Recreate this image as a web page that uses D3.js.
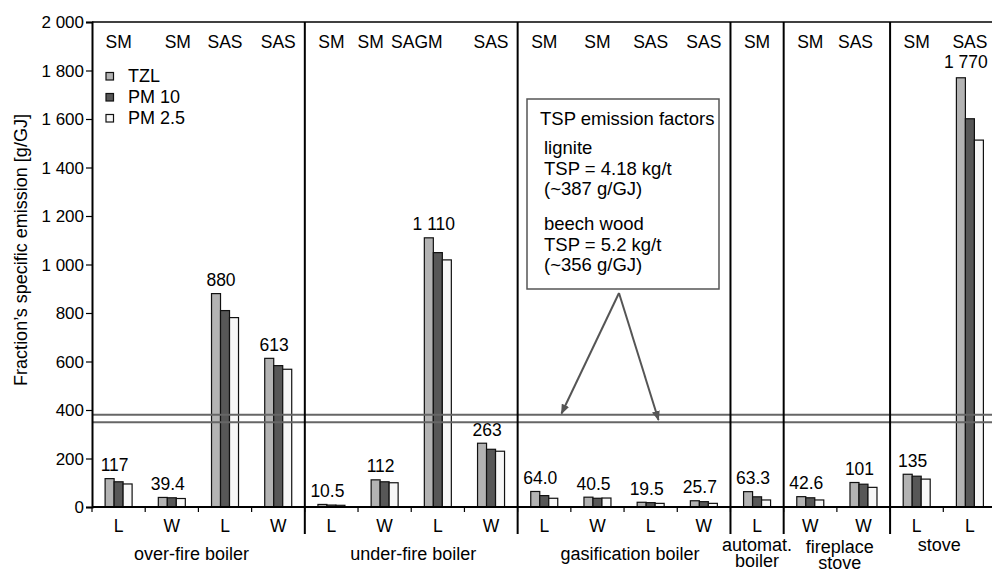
<!DOCTYPE html>
<html><head><meta charset="utf-8">
<script src="https://cdn.jsdelivr.net/npm/d3@7"></script>
<style>
html,body{margin:0;padding:0;background:#fff;}
svg{display:block;font-family:"Liberation Sans",Arial,sans-serif;}
</style></head>
<body>
<svg id="c" width="992" height="572"></svg>
<script>
// ---- data ----
const methods = ["SM","SM","SAS","SAS","SM","SM","SAGM","SAS","SM","SM","SAS","SAS","SM","SM","SAS","SM","SAS"];
const fuels   = ["L","W","L","W","L","W","L","W","L","W","L","W","L","W","W","L","L"];
const tzl     = [117,39.4,880,613,10.5,112,1110,263,64.0,40.5,19.5,25.7,63.3,42.6,101,135,1770];
const pm10    = [104,38,810,583,8,104,1049,238,47,36,18,22,42,38,94,127,1601];
const pm25    = [95,35,781,568,7,100,1019,230,36,37,15,15,29,29,81,115,1513];
const valueLabels = ["117","39.4","880","613","10.5","112","1 110","263","64.0","40.5","19.5","25.7","63.3","42.6","101","135","1 770"];
const groupNames = [["over-fire boiler"],["under-fire boiler"],["gasification boiler"],["automat.","boiler"],["fireplace","stove"],["stove"]];
const groupSizes = [4,4,4,1,2,2];
const seriesNames = ["TZL","PM 10","PM 2.5"];
const yTicks = [0,200,400,600,800,1000,1200,1400,1600,1800,2000];
const refLines = [380,350]; // lignite ~387, beech wood ~356 (as drawn)
const boxTitle = "TSP emission factors";
const boxLines = ["lignite","TSP = 4.18 kg/t","(~387 g/GJ)","beech wood","TSP = 5.2 kg/t","(~356 g/GJ)"];

// ---- layout ----
const svg = d3.select("#c");
const X0 = 92, X1 = 996.5, Y0 = 507, YT = 22;
const colors = ["#b3b3b3","#575757","#f7f7f7"];
const idx = d3.range(methods.length);
const x = d3.scaleBand().domain(idx).range([X0, X1]).padding(0);
const y = d3.scaleLinear().domain([0,2000]).range([Y0, YT]);
const bw = 9;
const barOff = d3.scaleBand().domain([0,1,2]).range([-13.5,13.5]);
const cx = i => x(i) + x.bandwidth()/2;

// top border
svg.append("line").attr("x1",X0).attr("x2",992).attr("y1",YT).attr("y2",YT)
  .attr("stroke","#000").attr("stroke-width",1.5);

// bars
const series = [tzl,pm10,pm25];
series.forEach((vals,s)=>{
  svg.append("g").selectAll("rect").data(idx).join("rect")
    .attr("x", i => cx(i) + barOff(s))
    .attr("y", i => y(vals[i]))
    .attr("width", bw)
    .attr("height", i => Y0 - y(vals[i]))
    .attr("fill", colors[s]).attr("stroke","#111").attr("stroke-width",1.2);
});

// value labels
svg.append("g").selectAll("text").data(idx).join("text")
  .attr("x", i => cx(i) - 4)
  .attr("y", i => Math.min(y(tzl[i]) - 7.5, 500) - (i===16 ? 2 : 0))
  .attr("text-anchor","middle").attr("font-size",17.5).text(i => valueLabels[i]);

// reference lines
svg.append("g").selectAll("line").data(refLines).join("line")
  .attr("x1",X0).attr("x2",992).attr("y1",d=>y(d)).attr("y2",d=>y(d))
  .attr("stroke","#666").attr("stroke-width",2);

// y axis
const yAxis = d3.axisLeft(y).tickValues(yTicks).tickSize(6).tickPadding(2)
  .tickFormat(d => d3.format(",")(d).replace(/,/g," "));
const ga = svg.append("g").attr("transform",`translate(${X0},0)`).call(yAxis);
ga.select(".domain").attr("stroke","#000").attr("stroke-width",2);
ga.selectAll(".tick line").attr("stroke","#000").attr("stroke-width",1.2);
ga.selectAll(".tick text").attr("font-size",17).attr("font-family","Liberation Sans, Arial, sans-serif").attr("fill","#000").attr("dy","0.34em");

// x axis (ticks at band boundaries)
svg.append("line").attr("x1",X0).attr("x2",992).attr("y1",Y0).attr("y2",Y0)
  .attr("stroke","#000").attr("stroke-width",2);
svg.append("g").selectAll("line").data(idx).join("line")
  .attr("x1",i=>x(i)).attr("x2",i=>x(i)).attr("y1",Y0).attr("y2",Y0+5)
  .attr("stroke","#000").attr("stroke-width",1.2);

// fuel labels
svg.append("g").selectAll("text").data(idx).join("text")
  .attr("x", cx).attr("y", 532).attr("text-anchor","middle").attr("font-size",17.5)
  .text(i => fuels[i]);

// method labels
const mShift = {1:6, 5:-14, 6:-21, 14:-8};
svg.append("g").selectAll("text").data(idx).join("text")
  .attr("x", i => cx(i) + (mShift[i]||0)).attr("y", 48).attr("text-anchor","middle").attr("font-size",17.5)
  .text(i => methods[i]);

// group dividers & labels
let start = 0;
const groupY = [560,560,560,551,553,551];
const groupDx = [-7,2,6,0,3,-4];
groupSizes.forEach((n,g)=>{
  const gx0 = x(start), gx1 = start+n < idx.length ? x(start+n) : X1;
  if (start+n < idx.length) {
    svg.append("line").attr("x1",gx1).attr("x2",gx1).attr("y1",YT).attr("y2",534)
      .attr("stroke","#000").attr("stroke-width",2);
  }
  const gx = (gx0+gx1)/2 + groupDx[g];
  const t = svg.append("text").attr("x",gx).attr("y",groupY[g])
    .attr("text-anchor","middle").attr("font-size",18);
  groupNames[g].forEach((ln,k)=>{
    t.append("tspan").attr("x",gx).attr("dy", k===0?0:16).text(ln);
  });
  start += n;
});

// legend
const lg = svg.append("g");
seriesNames.forEach((nm,s)=>{
  const ly = 76 + s*21;
  lg.append("rect").attr("x",106).attr("y",ly-3.5).attr("width",7.5).attr("height",7.5)
    .attr("fill",colors[s]).attr("stroke","#111").attr("stroke-width",1.2);
  lg.append("text").attr("x",128).attr("y",ly+6).attr("font-size",18).text(nm);
});

// annotation box
svg.append("rect").attr("x",527).attr("y",99).attr("width",192).attr("height",190)
  .attr("fill","#fff").attr("stroke","#555").attr("stroke-width",1.5);
svg.append("text").attr("x",540).attr("y",125).attr("font-size",18.5).text(boxTitle);
const boxY = [154,175,195,230,251,271];
boxLines.forEach((ln,k)=>{
  svg.append("text").attr("x",544).attr("y",boxY[k]).attr("font-size",18.5).text(ln);
});

// arrows
const defs = svg.append("defs");
defs.append("marker").attr("id","ah").attr("viewBox","0 0 10 10").attr("refX",9).attr("refY",5)
  .attr("markerWidth",5).attr("markerHeight",5).attr("orient","auto")
  .append("path").attr("d","M0,1L10,5L0,9Z").attr("fill","#555");
const apex = [619,293];
[[561.5,413.5],[658.5,420]].forEach(p=>{
  svg.append("line").attr("x1",apex[0]).attr("y1",apex[1]).attr("x2",p[0]).attr("y2",p[1])
    .attr("stroke","#555").attr("stroke-width",2).attr("marker-end","url(#ah)");
});

// y title
svg.append("text").attr("transform","translate(27,250) rotate(-90)")
  .attr("text-anchor","middle").attr("font-size",18).text("Fraction\u2019s specific emission [g/GJ]");
</script>
</body></html>
